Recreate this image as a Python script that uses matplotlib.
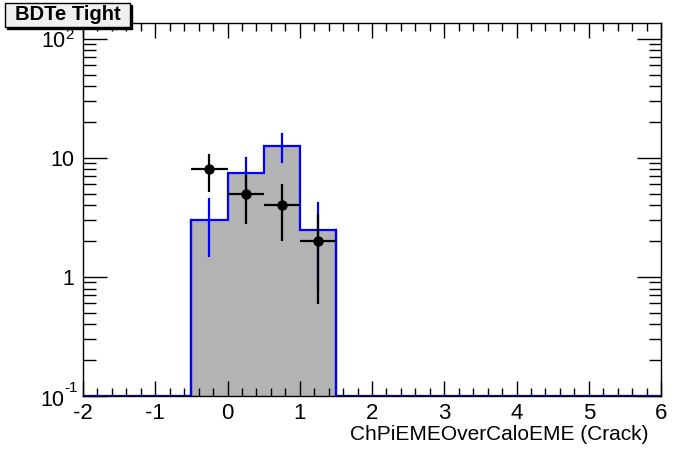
import matplotlib
matplotlib.use("Agg")
import matplotlib.pyplot as plt
from matplotlib.ticker import FixedLocator, FixedFormatter, MultipleLocator
from matplotlib.patches import Rectangle
import numpy as np

plt.rcParams['font.family'] = ['Liberation Sans', 'DejaVu Sans']
plt.rcParams['mathtext.fontset'] = 'custom'
plt.rcParams['mathtext.rm'] = 'Liberation Sans'
plt.rcParams['mathtext.it'] = 'Liberation Sans:italic'
plt.rcParams['axes.unicode_minus'] = False

# MC histogram (bin edges and contents, 0.5 wide bins from -2 to 6)
bin_edges = np.arange(-2.0, 6.01, 0.5)
mc_values = [0, 0, 0, 3.0, 7.5, 12.6, 2.5, 0, 0, 0, 0, 0, 0, 0, 0, 0]
mc_err = [0, 0, 0, 1.5, 2.5, 3.4, 1.7, 0, 0, 0, 0, 0, 0, 0, 0, 0]

# data points
data_x = [-0.25, 0.25, 0.75, 1.25]
data_y = [8, 5, 4, 2]
data_yerr = [2.83, 2.24, 2.0, 1.41]
data_xerr = [0.25, 0.25, 0.25, 0.25]

ymin, ymax = 0.1, 136

fig = plt.figure(figsize=(6.96, 4.72), dpi=100)
ax = fig.add_axes([83 / 696, 76 / 472, 578 / 696, 373 / 472])

vals = np.array(mc_values, dtype=float)
drawn = np.where(vals > 0, vals, ymin)
ax.stairs(drawn, bin_edges, baseline=ymin, fill=True, color='#b3b3b3', zorder=1)
ax.stairs(drawn, bin_edges, baseline=None, color='#0000ff', lw=1.6, zorder=2)
ax.plot([bin_edges[3], bin_edges[3]], [ymin, drawn[3]], color='#0000ff', lw=1.6, zorder=2)
ax.plot([bin_edges[7], bin_edges[7]], [ymin, drawn[6]], color='#0000ff', lw=1.6, zorder=2)

centers = (bin_edges[:-1] + bin_edges[1:]) / 2
for c, v, e in zip(centers, vals, mc_err):
    if v > 0:
        ax.plot([c, c], [v - e, v + e], color='#0000ff', lw=1.6, zorder=3)

ax.errorbar(data_x, data_y, xerr=data_xerr, yerr=data_yerr, fmt='o', color='black',
            markersize=6.5, elinewidth=1.6, capsize=0, zorder=4)

ax.set_yscale('log')
ax.set_xlim(-2, 6)
ax.set_ylim(ymin, ymax)

ax.xaxis.set_major_locator(MultipleLocator(1))
ax.xaxis.set_minor_locator(MultipleLocator(0.2))
major_y = [0.1, 1, 10, 100]
ax.yaxis.set_major_locator(FixedLocator(major_y))
# 10^-1 is written by hand below so that it keeps a plain hyphen
ax.yaxis.set_major_formatter(FixedFormatter(['', '1', '10', r'10$^{2}$']))
minor_y = [m * 10.0 ** k for k in range(-1, 3) for m in range(2, 10)]
ax.yaxis.set_minor_locator(FixedLocator(minor_y))
ax.yaxis.set_minor_formatter(FixedFormatter([''] * len(minor_y)))

ax.tick_params(which='both', direction='in', top=True, right=True, width=1)
ax.tick_params(axis='x', which='major', length=11, pad=5, labelsize=16)
ax.tick_params(axis='x', which='minor', length=6)
ax.tick_params(axis='y', which='major', length=17, pad=6, labelsize=15.5)
ax.tick_params(axis='y', which='minor', length=9)
for s in ax.spines.values():
    s.set_linewidth(1)

fig.text(64 / 696, 1 - 400 / 472, '10', ha='right', va='center', fontsize=15.5)
fig.text(64.5 / 696, 1 - 388 / 472, '-1', ha='left', va='center', fontsize=11)

fig.text(648 / 696, 1 - 435 / 472, 'ChPiEMEOverCaloEME (Crack)', ha='right', va='center', fontsize=15)

# title box with shadow
fig.patches.append(Rectangle((7 / 696, 1 - 29 / 472), 125 / 696, 24 / 472, transform=fig.transFigure,
                             facecolor='black', edgecolor='black', zorder=5))
fig.patches.append(Rectangle((5 / 696, 1 - 27 / 472), 125 / 696, 24 / 472, transform=fig.transFigure,
                             facecolor='#f0f0f0', edgecolor='black', lw=1, zorder=6))
fig.text(67.5 / 696, 1 - 15 / 472, 'BDTe Tight', ha='center', va='center', fontsize=14.5,
         fontweight='bold', zorder=7)

fig.savefig('out.png', dpi=100)
